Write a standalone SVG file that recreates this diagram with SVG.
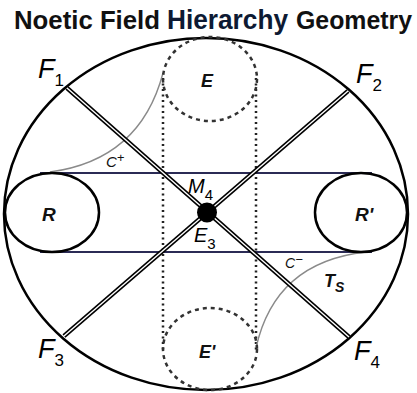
<svg xmlns="http://www.w3.org/2000/svg" width="417" height="393" viewBox="0 0 417 393">
<style>
.lbl{font-family:"Liberation Sans",Arial,sans-serif;font-style:italic;font-weight:bold;fill:#111}
.flbl{font-family:"Liberation Sans",Arial,sans-serif;font-style:italic;fill:#000}
.sub{font-style:normal}
.title{font-family:"Liberation Sans",Arial,sans-serif;font-weight:bold;fill:#111}
.dbl-o{stroke:#000;stroke-width:4.5;fill:none}
.dbl-i{stroke:#fff;stroke-width:1.4;fill:none}
.dash{fill:none;stroke:#333;stroke-width:2.5;stroke-dasharray:4 4}
.dot{fill:none;stroke:#222;stroke-width:2.5;stroke-dasharray:2 3.5}
.hl{stroke:#2b2b55;stroke-width:2;fill:none}
.gc{stroke:#8a8a8a;stroke-width:1.4;fill:none}
.sol{fill:none;stroke:#000;stroke-width:2.5}
</style>
<rect width="417" height="393" fill="#fff"/>
<g id="title">
<text class="title" x="14" y="29" font-size="26" textLength="146" lengthAdjust="spacingAndGlyphs">Noetic Field</text>
<text class="title" x="167" y="29" font-size="27" style="fill:#0d1a33" textLength="121" lengthAdjust="spacingAndGlyphs">Hierarchy</text>
<text class="title" x="296" y="29" font-size="26" textLength="116" lengthAdjust="spacingAndGlyphs">Geometry</text>
</g>
<g id="outer"><ellipse class="sol" cx="206" cy="214" rx="202" ry="176"/></g>
<g id="connectors">
<line class="hl" x1="40" y1="173" x2="372" y2="173"/>
<line class="hl" x1="40" y1="252" x2="372" y2="252"/>
<line class="dot" x1="163" y1="78" x2="163" y2="350"/>
<line class="dot" x1="256" y1="78" x2="256" y2="350"/>
<path class="gc" d="M163,73 Q140,160 50,172"/>
<path class="gc" d="M256,348 Q275,262 366,252"/>
<line class="dbl-o" x1="67" y1="88" x2="349" y2="337"/>
<line class="dbl-i" x1="67" y1="88" x2="349" y2="337"/>
<line class="dbl-o" x1="348" y1="91" x2="64" y2="336"/>
<line class="dbl-i" x1="348" y1="91" x2="64" y2="336"/>
</g>
<g id="node-R"><ellipse class="sol" cx="52" cy="212.5" rx="47" ry="39.5"/><text class="lbl" x="42" y="221" font-size="19">R</text></g>
<g id="node-R2"><ellipse class="sol" cx="361" cy="212.5" rx="46" ry="39.5"/><text class="lbl" x="355" y="221" font-size="19">R'</text></g>
<g id="node-E"><ellipse class="dash" cx="210" cy="79" rx="47" ry="42"/><text class="lbl" x="201" y="87" font-size="18">E</text></g>
<g id="node-E2"><ellipse class="dash" cx="210" cy="349" rx="47" ry="41"/><text class="lbl" x="199" y="358" font-size="18">E'</text></g>
<g id="node-center"><circle cx="207" cy="212.5" r="10" fill="#000"/></g>
<g id="labels">
<text class="flbl" x="38" y="78" font-size="27">F<tspan class="sub" font-size="17" dy="8">1</tspan></text>
<text class="flbl" x="356" y="83" font-size="27">F<tspan class="sub" font-size="17" dy="8">2</tspan></text>
<text class="flbl" x="38" y="358" font-size="27">F<tspan class="sub" font-size="17" dy="8">3</tspan></text>
<text class="flbl" x="354" y="360" font-size="27">F<tspan class="sub" font-size="17" dy="8">4</tspan></text>
<text class="flbl" x="188" y="193" font-size="20">M<tspan class="sub" font-size="15" dy="7">4</tspan></text>
<text class="flbl" x="194" y="242" font-size="20">E<tspan class="sub" font-size="15" dy="7">3</tspan></text>
<text class="lbl" style="font-weight:normal" x="106" y="167" font-size="15">C<tspan font-size="13" dy="-5">+</tspan></text>
<text class="lbl" style="font-weight:normal" x="285" y="268" font-size="14">C<tspan font-size="13" dy="-4">−</tspan></text>
<text class="lbl" x="324" y="287" font-size="18">T<tspan font-size="14" dy="5">S</tspan></text>
</g>
</svg>
